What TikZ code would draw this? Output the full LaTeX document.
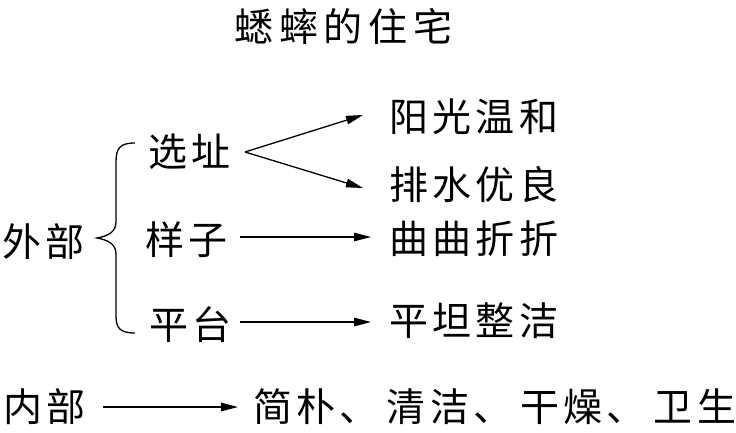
\documentclass[tikz,border=0pt]{standalone}
\usepackage{fontspec}
\usetikzlibrary{arrows.meta}
\newfontfamily\cjk[LetterSpace=11]{Noto Sans CJK SC}
\newfontfamily\cjkt[LetterSpace=15]{Noto Sans CJK SC}
\begin{document}
\begin{tikzpicture}[x=1pt,y=-1pt,
  txt/.style={anchor=west,inner sep=0pt,font=\fontsize{39pt}{44pt}\cjk},
  arr/.style={line width=1.3pt,-{Triangle[length=17pt,width=8.5pt]}},
  brace/.style={line width=1.3pt}]
\useasboundingbox (0,0) rectangle (736,432);
% title
\node[txt,font=\fontsize{39pt}{44pt}\cjkt] (title) at (234,26) {蟋蟀的住宅};
% left part
\node[txt] (wb) at (2,242) {外部};
\node[txt] (xz) at (148,152) {选址};
\node[txt] (yz) at (145,240) {样子};
\node[txt] (pt) at (149,325) {平台};
\node[txt] (r1) at (389,117) {阳光温和};
\node[txt] (r2) at (389,185) {排水优良};
\node[txt] (r3) at (389,239) {曲曲折折};
\node[txt] (r4) at (389,321) {平坦整洁};
% brace
\coordinate (bt) at (135,143);
\coordinate (bm) at (97,238);
\coordinate (bb) at (135,333);
\draw[brace] (bt) .. controls (120,143) and (116,148) .. (116,162)
  -- (116,222) .. controls (116,232) and (108,236) .. (bm)
  .. controls (108,240) and (116,244) .. (116,254)
  -- (116,316) .. controls (116,328) and (120,333) .. (bb);
% arrows
\coordinate (fork) at (245,152);
\coordinate (a1) at (363,115);
\coordinate (a2) at (363,188);
\draw[arr] (fork) -- (a1);
\draw[arr] (fork) -- (a2);
\coordinate (s3) at (240,237);
\coordinate (e3) at (371,237);
\draw[arr] (s3) -- (e3);
\coordinate (s4) at (240,322);
\coordinate (e4) at (371,322);
\draw[arr] (s4) -- (e4);
% bottom
\node[txt] (nb) at (3,407) {内部};
\node[txt] (bt2) at (253,407) {简朴、\hspace{8pt}清洁、\hspace{8pt}干燥、\hspace{8pt}卫生};
\coordinate (s5) at (103,407);
\coordinate (e5) at (238,407);
\draw[arr] (s5) -- (e5);
\end{tikzpicture}
\end{document}
